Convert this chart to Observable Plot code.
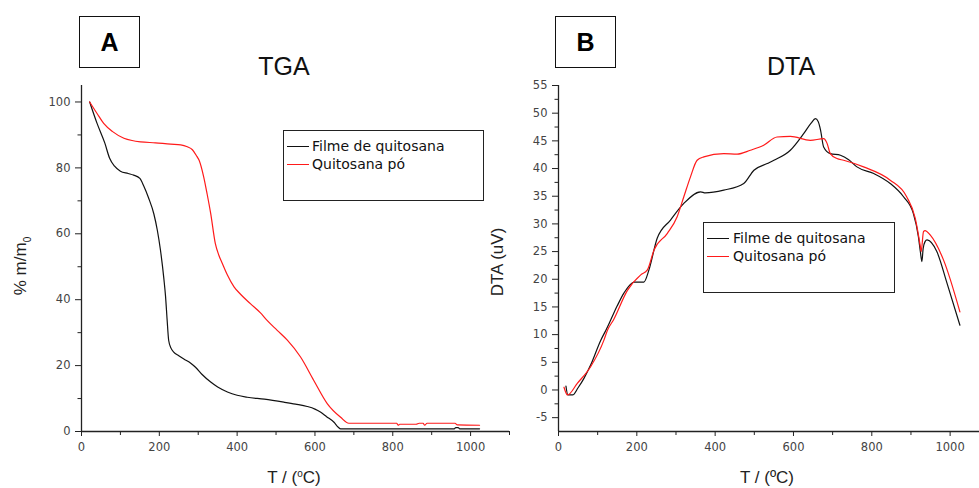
<!DOCTYPE html>
<html>
<head>
<meta charset="utf-8">
<script src="https://cdn.jsdelivr.net/npm/d3@7"></script>
<script src="https://cdn.jsdelivr.net/npm/@observablehq/plot@0.6"></script>
<style>
  html, body { margin: 0; padding: 0; background: #fff; }
  #root { position: relative; width: 979px; height: 488px; background: #fff; font-family: "Liberation Sans", Arial, sans-serif; overflow: hidden; }
  .abs { position: absolute; }
  .panelbox { position: absolute; border: 1.5px solid #111; box-sizing: border-box; display: flex; align-items: center; justify-content: center; font-weight: bold; font-size: 25px; color: #000; }
  .title { position: absolute; font-size: 25px; color: #111; transform: translateX(-50%); white-space: nowrap; }
  .xlabel { position: absolute; font-size: 17px; color: #222; transform: translate(-50%, -50%); white-space: nowrap; }
  .ylabel { position: absolute; font-size: 17px; color: #222; transform: translate(-50%, -50%) rotate(-90deg); white-space: nowrap; }
  .legend { position: absolute; border: 1.3px solid #222; box-sizing: border-box; background: #fff; font-family: "DejaVu Sans", Verdana, sans-serif; font-size: 14px; color: #111; }
  .legend .row { position: absolute; left: 0; display: flex; align-items: center; white-space: nowrap; }
  .legend .sw { display: inline-block; height: 0; border-top: 1.3px solid; margin-right: 5px; }
  .plotwrap svg { overflow: visible; }
</style>
</head>
<body>
<div id="root"></div>
<script>
// ---------------- DATA ----------------
// TGA (panel A): temperature (°C) and % m/m0
const tgaFilmT = [21, 40, 60, 72, 85, 100, 120, 134, 150, 160, 172, 186, 195, 203, 212, 216, 220, 224, 230, 237, 250, 263, 280, 293, 310, 332, 350, 375, 400, 426, 470, 520, 550, 580, 600, 614, 630, 649, 660, 666, 700, 800, 900, 958, 962, 968, 972, 1023];
const tgaFilm  = [100, 93.5, 87.5, 83, 80.5, 79, 78.3, 77.8, 76.8, 74.5, 71, 66, 61, 55, 46, 41, 34, 27.7, 25.3, 24.1, 23, 22, 20.8, 19.5, 17.3, 15, 13.5, 12, 11, 10.4, 9.8, 8.9, 8.3, 7.6, 6.8, 5.9, 4.5, 2.8, 1.3, 0.8, 0.8, 0.8, 0.8, 0.8, 1.2, 1.2, 0.8, 0.8];

const tgaPowderT = [21, 40, 57, 80, 109, 130, 152, 190, 229, 255, 272, 285, 297, 302, 314, 323, 332, 344, 353, 362, 375, 392, 410, 434, 460, 477, 503, 529, 563, 597, 632, 666, 687, 750, 810, 814, 818, 860, 868, 878, 882, 888, 960, 966, 1023];
const tgaPowder  = [100, 96.5, 93.5, 91, 89, 88.3, 87.9, 87.6, 87.2, 87, 86.4, 85.5, 83.4, 82.4, 77.3, 72, 66.2, 57, 53.5, 51, 47.5, 43.9, 41.5, 38.8, 36, 33.7, 30.7, 27.7, 22.6, 15.5, 8.4, 4.3, 2.5, 2.5, 2.5, 1.9, 2.2, 2.2, 2.5, 2.5, 1.9, 2.5, 2.5, 2.0, 1.9];

// DTA (panel B): temperature (°C) and DTA (uV)
const dtaFilmT = [19, 24, 36, 50, 65, 82, 108, 121, 133, 150, 167, 193, 210, 218, 231, 252, 286, 320, 363, 375, 422, 473, 499, 533, 550, 592, 626, 645, 656, 663, 669, 677, 694, 720, 741, 762, 805, 847, 881, 906, 919, 924, 928, 931, 936, 941, 966, 992, 1025];
const dtaFilm  = [0.7, -0.9, -0.9, 0.4, 2.1, 4.5, 9, 10.8, 12.6, 15.2, 17.5, 19.5, 19.5, 19.5, 21.7, 27.4, 30.7, 33.7, 35.8, 35.6, 36.1, 37.3, 39.7, 40.9, 41.5, 43.3, 46.3, 48.2, 49, 48.5, 47, 43.9, 42.7, 42.4, 41.6, 40.3, 39.1, 37.3, 34.9, 31.9, 27.7, 25, 23.2, 25.5, 26.8, 27.1, 25, 19.3, 11.7];

const dtaPowderT = [14, 23, 48, 82, 116, 125, 140, 176, 210, 227, 244, 278, 303, 320, 337, 354, 371, 422, 456, 490, 524, 558, 592, 643, 677, 686, 694, 711, 728, 779, 847, 889, 911, 924, 926, 932, 936, 949, 983, 1025];
const dtaPowder  = [0.5, -0.9, 1.2, 4.2, 9, 10.8, 12.6, 18, 20.8, 21.7, 25.3, 28.3, 31.3, 34.9, 38.5, 41.5, 42.1, 42.7, 42.6, 43.3, 44.2, 45.7, 45.8, 45.1, 45.4, 44.5, 42.7, 41.8, 41.5, 40.3, 37.9, 34.9, 31, 25.9, 25, 28.6, 28.8, 28, 23.5, 14.1];

// Ticks
const tgaXTicks = [0, 200, 400, 600, 800, 1000];
const tgaXMinor = [100, 300, 500, 700, 900, 1100];
const tgaYTicks = [0, 20, 40, 60, 80, 100];
const tgaYMinor = [10, 30, 50, 70, 90];
const dtaXTicks = [0, 200, 400, 600, 800, 1000];
const dtaXMinor = [100, 300, 500, 700, 900];
const dtaYTicks = [-5, 0, 5, 10, 15, 20, 25, 30, 35, 40, 45, 50, 55];
const dtaYMinor = [-2.5, 2.5, 7.5, 12.5, 17.5, 22.5, 27.5, 32.5, 37.5, 42.5, 47.5, 52.5];

const seriesNames = ["Filme de quitosana", "Quitosana pó"];
const seriesColors = ["#111111", "#ff1a1a"];

// ---------------- BUILD ----------------
const zip = (xs, ys, s) => xs.map((x, i) => ({T: x, v: ys[i], s}));
const tgaData = [...zip(tgaFilmT, tgaFilm, seriesNames[0]), ...zip(tgaPowderT, tgaPowder, seriesNames[1])];
const dtaData = [...zip(dtaFilmT, dtaFilm, seriesNames[0]), ...zip(dtaPowderT, dtaPowder, seriesNames[1])];

const tickFont = {fontFamily: "DejaVu Sans, Verdana, sans-serif", fontSize: 11.5, fill: "#444"};

function axes(xT, xM, yT, yM, xDom, yDom) {
  return [
    Plot.ruleY([yDom[0]], {stroke: "#222", strokeWidth: 1.3}),
    Plot.ruleX([xDom[0]], {stroke: "#222", strokeWidth: 1.3}),
    Plot.axisX({ticks: xT, tickSize: 5, tickPadding: 6, label: null, stroke: "#222", ...tickFont, tickFormat: d => String(d)}),
    Plot.axisX({ticks: xM, tickSize: 4, text: null, label: null, stroke: "#222"}),
    Plot.axisY({ticks: yT, tickSize: 6, tickPadding: 5, label: null, stroke: "#222", ...tickFont, tickFormat: d => String(d)}),
    Plot.axisY({ticks: yM, tickSize: 3.5, text: null, label: null, stroke: "#222"})
  ];
}

const tgaX = [0, 1100], tgaY = [0, 105];
const plotA = Plot.plot({
  width: 520, height: 488,
  marginLeft: 81, marginRight: 11, marginTop: 85, marginBottom: 57,
  x: {domain: tgaX}, y: {domain: tgaY},
  color: {domain: seriesNames, range: seriesColors},
  style: {background: "transparent", overflow: "visible"},
  marks: [
    ...axes(tgaXTicks, tgaXMinor, tgaYTicks, tgaYMinor, tgaX, tgaY),
    Plot.line(tgaData, {x: "T", y: "v", z: "s", stroke: "s", strokeWidth: 1.2, curve: "monotone-x"})
  ]
});

const dtaX = [0, 1075], dtaY = [-7.5, 55];
const plotB = Plot.plot({
  width: 489, height: 488,
  marginLeft: 68, marginRight: 0, marginTop: 85, marginBottom: 57,
  x: {domain: dtaX}, y: {domain: dtaY},
  color: {domain: seriesNames, range: seriesColors},
  style: {background: "transparent", overflow: "visible"},
  marks: [
    ...axes(dtaXTicks, dtaXMinor, dtaYTicks, dtaYMinor, dtaX, dtaY),
    Plot.line(dtaData, {x: "T", y: "v", z: "s", stroke: "s", strokeWidth: 1.2, curve: "monotone-x"})
  ]
});

const root = document.getElementById("root");
function el(tag, cls, css, html) {
  const e = document.createElement(tag);
  if (cls) e.className = cls;
  Object.assign(e.style, css || {});
  if (html != null) e.innerHTML = html;
  root.appendChild(e);
  return e;
}

const wrapB = el("div", "abs plotwrap", {left: "490px", top: "0px"});
wrapB.appendChild(plotB);
const wrapA = el("div", "abs plotwrap", {left: "0px", top: "0px"});
wrapA.appendChild(plotA);

// panel boxes and titles
el("div", "panelbox", {left: "79px", top: "16px", width: "61px", height: "52px"}, "A");
el("div", "panelbox", {left: "555px", top: "16px", width: "61px", height: "52px"}, "B");
el("div", "title", {left: "284px", top: "52px"}, "TGA");
el("div", "title", {left: "791px", top: "52px"}, "DTA");

// axis labels
el("div", "xlabel", {left: "294px", top: "478px"}, "T / (<sup style='font-size:10px'>o</sup>C)");
el("div", "xlabel", {left: "767px", top: "478px"}, "T / (ºC)");
el("div", "ylabel", {left: "22px", top: "266px"}, "% m/m<sub style='font-size:10px'>0</sub>");
el("div", "ylabel", {left: "498px", top: "262px"}, "DTA (uV)");

// legends
function legend(left, top, w, h, swLeft, swW, textLeft, rowYs) {
  const lg = el("div", "legend", {left: left + "px", top: top + "px", width: w + "px", height: h + "px"});
  seriesNames.forEach((name, i) => {
    const row = document.createElement("div");
    row.className = "row";
    row.style.top = (rowYs[i] - 9) + "px";
    row.style.height = "18px";
    row.style.left = swLeft + "px";
    const sw = document.createElement("span");
    sw.className = "sw";
    sw.style.width = swW + "px";
    sw.style.borderTopColor = seriesColors[i];
    sw.style.marginRight = (textLeft - swLeft - swW) + "px";
    const tx = document.createElement("span");
    tx.textContent = name;
    row.appendChild(sw); row.appendChild(tx);
    lg.appendChild(row);
  });
}
legend(283, 130, 201, 71, 3, 22, 28, [15, 33]);
legend(703, 222, 192, 71, 3, 22, 29, [15, 33]);
</script>
</body>
</html>
